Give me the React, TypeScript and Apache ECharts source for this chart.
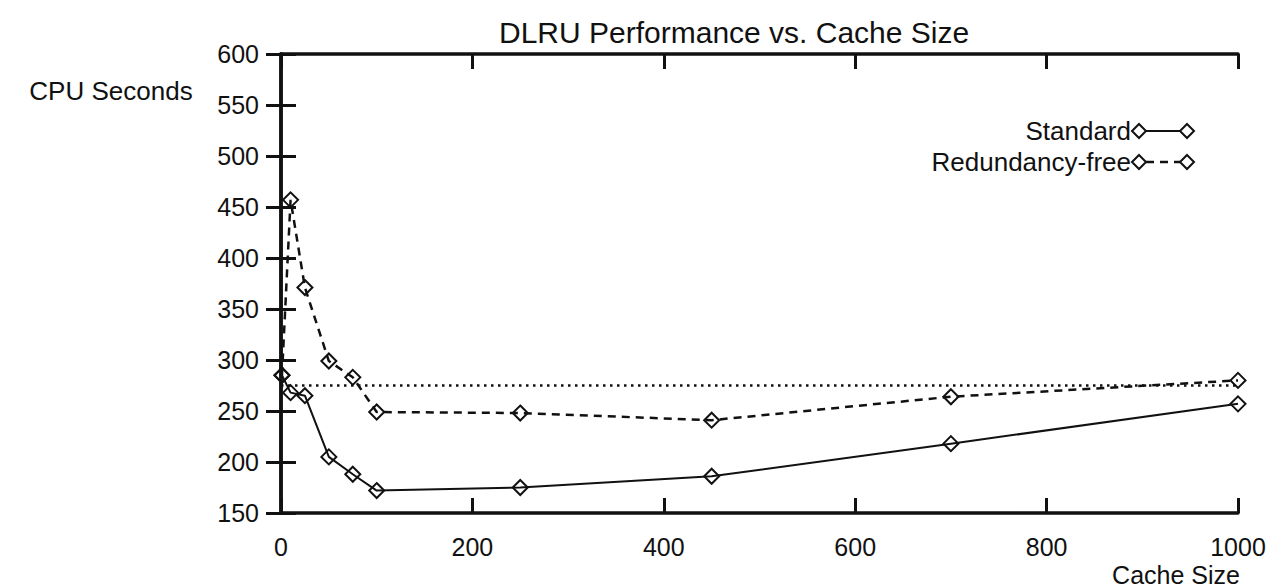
import React, { useEffect, useRef } from "react";
import * as echarts from "echarts";

// Cache sizes (x) and CPU seconds (y)
const cacheSizes = [1, 10, 25, 50, 75, 100, 250, 450, 700, 1000];
const standardSeconds = [285, 268, 265, 205, 188, 172, 175, 186, 218, 257];
const redundancyFreeSeconds = [285, 457, 371, 299, 283, 249, 248, 241, 264, 280];
const baselineSizes = [0, 1000];
const baselineSeconds = [275, 275];

const yMin = 150;
const yMax = 600;
const yStep = 50;
const xMin = 0;
const xMax = 1000;
const xStep = 200;

const titleText = "DLRU Performance vs. Cache Size";
const yName = "CPU Seconds";
const xName = "Cache Size";
const legendNames = ["Standard", "Redundancy-free"];

const FONT = "'Liberation Sans', Arial, Helvetica, sans-serif";
const INK = "#111";

export default function App() {
  const ref = useRef<HTMLDivElement>(null);

  useEffect(() => {
    if (!ref.current) return;
    const chart = echarts.init(ref.current, undefined, { renderer: "svg" });

    const zip = (xs: number[], ys: number[]) => xs.map((x, i) => [x, ys[i]]);

    const mkLine = () => ({ show: true, lineStyle: { color: INK, width: 3.5 } });
    const mkTick = () => ({ show: true, inside: true, length: 15, lineStyle: { color: INK, width: 3 } });

    const diamond = (cx: number, cy: number) => ({
      type: "polygon",
      shape: { points: [[cx, cy - 7], [cx + 7, cy], [cx, cy + 7], [cx - 7, cy]] },
      style: { fill: "none", stroke: INK, lineWidth: 2 },
    });

    const legendRows = [
      { name: legendNames[0], y: 131, dash: null as number[] | null },
      { name: legendNames[1], y: 162, dash: [8, 6] },
    ];
    const legendGraphics: any[] = [];
    legendRows.forEach((r) => {
      legendGraphics.push({
        type: "text",
        x: 1131,
        y: r.y,
        style: { text: r.name, fill: INK, font: `26px ${FONT}`, align: "right", verticalAlign: "middle" },
      });
      legendGraphics.push({
        type: "line",
        shape: { x1: 1146, y1: r.y, x2: 1180, y2: r.y },
        style: { stroke: INK, lineWidth: r.dash ? 2.5 : 2, lineDash: r.dash || undefined },
      });
      legendGraphics.push(diamond(1139, r.y));
      legendGraphics.push(diamond(1187, r.y));
    });

    chart.setOption({
      animation: false,
      backgroundColor: "#fff",
      title: {
        text: titleText,
        left: 494,
        top: 12,
        textStyle: { fontFamily: FONT, fontSize: 30, fontWeight: "normal", color: INK },
      },
      grid: { left: 281, right: 37, top: 54, bottom: 75, containLabel: false },
      xAxis: [
        {
          type: "value",
          min: xMin,
          max: xMax,
          interval: xStep,
          position: "bottom",
          axisLine: mkLine(),
          axisTick: mkTick(),
          splitLine: { show: false },
          axisLabel: {
            color: INK,
            fontFamily: FONT,
            fontSize: 25,
            margin: 21,
            formatter: (v: number) => String(v),
          },
        },
        {
          type: "value",
          min: xMin,
          max: xMax,
          interval: xStep,
          position: "top",
          axisLine: mkLine(),
          axisTick: mkTick(),
          splitLine: { show: false },
          axisLabel: { show: false },
        },
      ],
      yAxis: [
        {
          type: "value",
          min: yMin,
          max: yMax,
          interval: yStep,
          position: "left",
          axisLine: mkLine(),
          axisTick: mkTick(),
          splitLine: { show: false },
          axisLabel: { color: INK, fontFamily: FONT, fontSize: 25, margin: 22 },
        },
        {
          type: "value",
          min: yMin,
          max: yMax,
          interval: yStep,
          position: "right",
          axisLine: mkLine(),
          axisTick: mkTick(),
          splitLine: { show: false },
          axisLabel: { show: false },
        },
      ],
      graphic: [
        {
          type: "text",
          x: 111,
          y: 91,
          style: { text: yName, fill: INK, font: `26px ${FONT}`, align: "center", verticalAlign: "middle" },
        },
        {
          type: "text",
          x: 1176,
          y: 575,
          style: { text: xName, fill: INK, font: `25px ${FONT}`, align: "center", verticalAlign: "middle" },
        },
        ...legendGraphics,
      ],
      series: [
        {
          name: "Baseline",
          type: "line",
          data: zip(baselineSizes, baselineSeconds),
          showSymbol: false,
          symbol: "none",
          lineStyle: { color: INK, width: 2.5, type: [2.5, 4.5] },
          silent: true,
          z: 1,
        },
        {
          name: legendNames[1],
          type: "line",
          data: zip(cacheSizes, redundancyFreeSeconds),
          symbol: "diamond",
          symbolSize: 15,
          itemStyle: { color: "rgba(0,0,0,0)", borderColor: INK, borderWidth: 2 },
          lineStyle: { color: INK, width: 2.5, type: [8, 6] },
          z: 2,
        },
        {
          name: legendNames[0],
          type: "line",
          data: zip(cacheSizes, standardSeconds),
          symbol: "diamond",
          symbolSize: 15,
          itemStyle: { color: "rgba(0,0,0,0)", borderColor: INK, borderWidth: 2 },
          lineStyle: { color: INK, width: 2 },
          z: 3,
        },
      ],
    });

    return () => chart.dispose();
  }, []);

  return (
    <div
      ref={ref}
      style={{ position: "absolute", left: 0, top: 0, width: 1275, height: 588, background: "#fff" }}
    />
  );
}
